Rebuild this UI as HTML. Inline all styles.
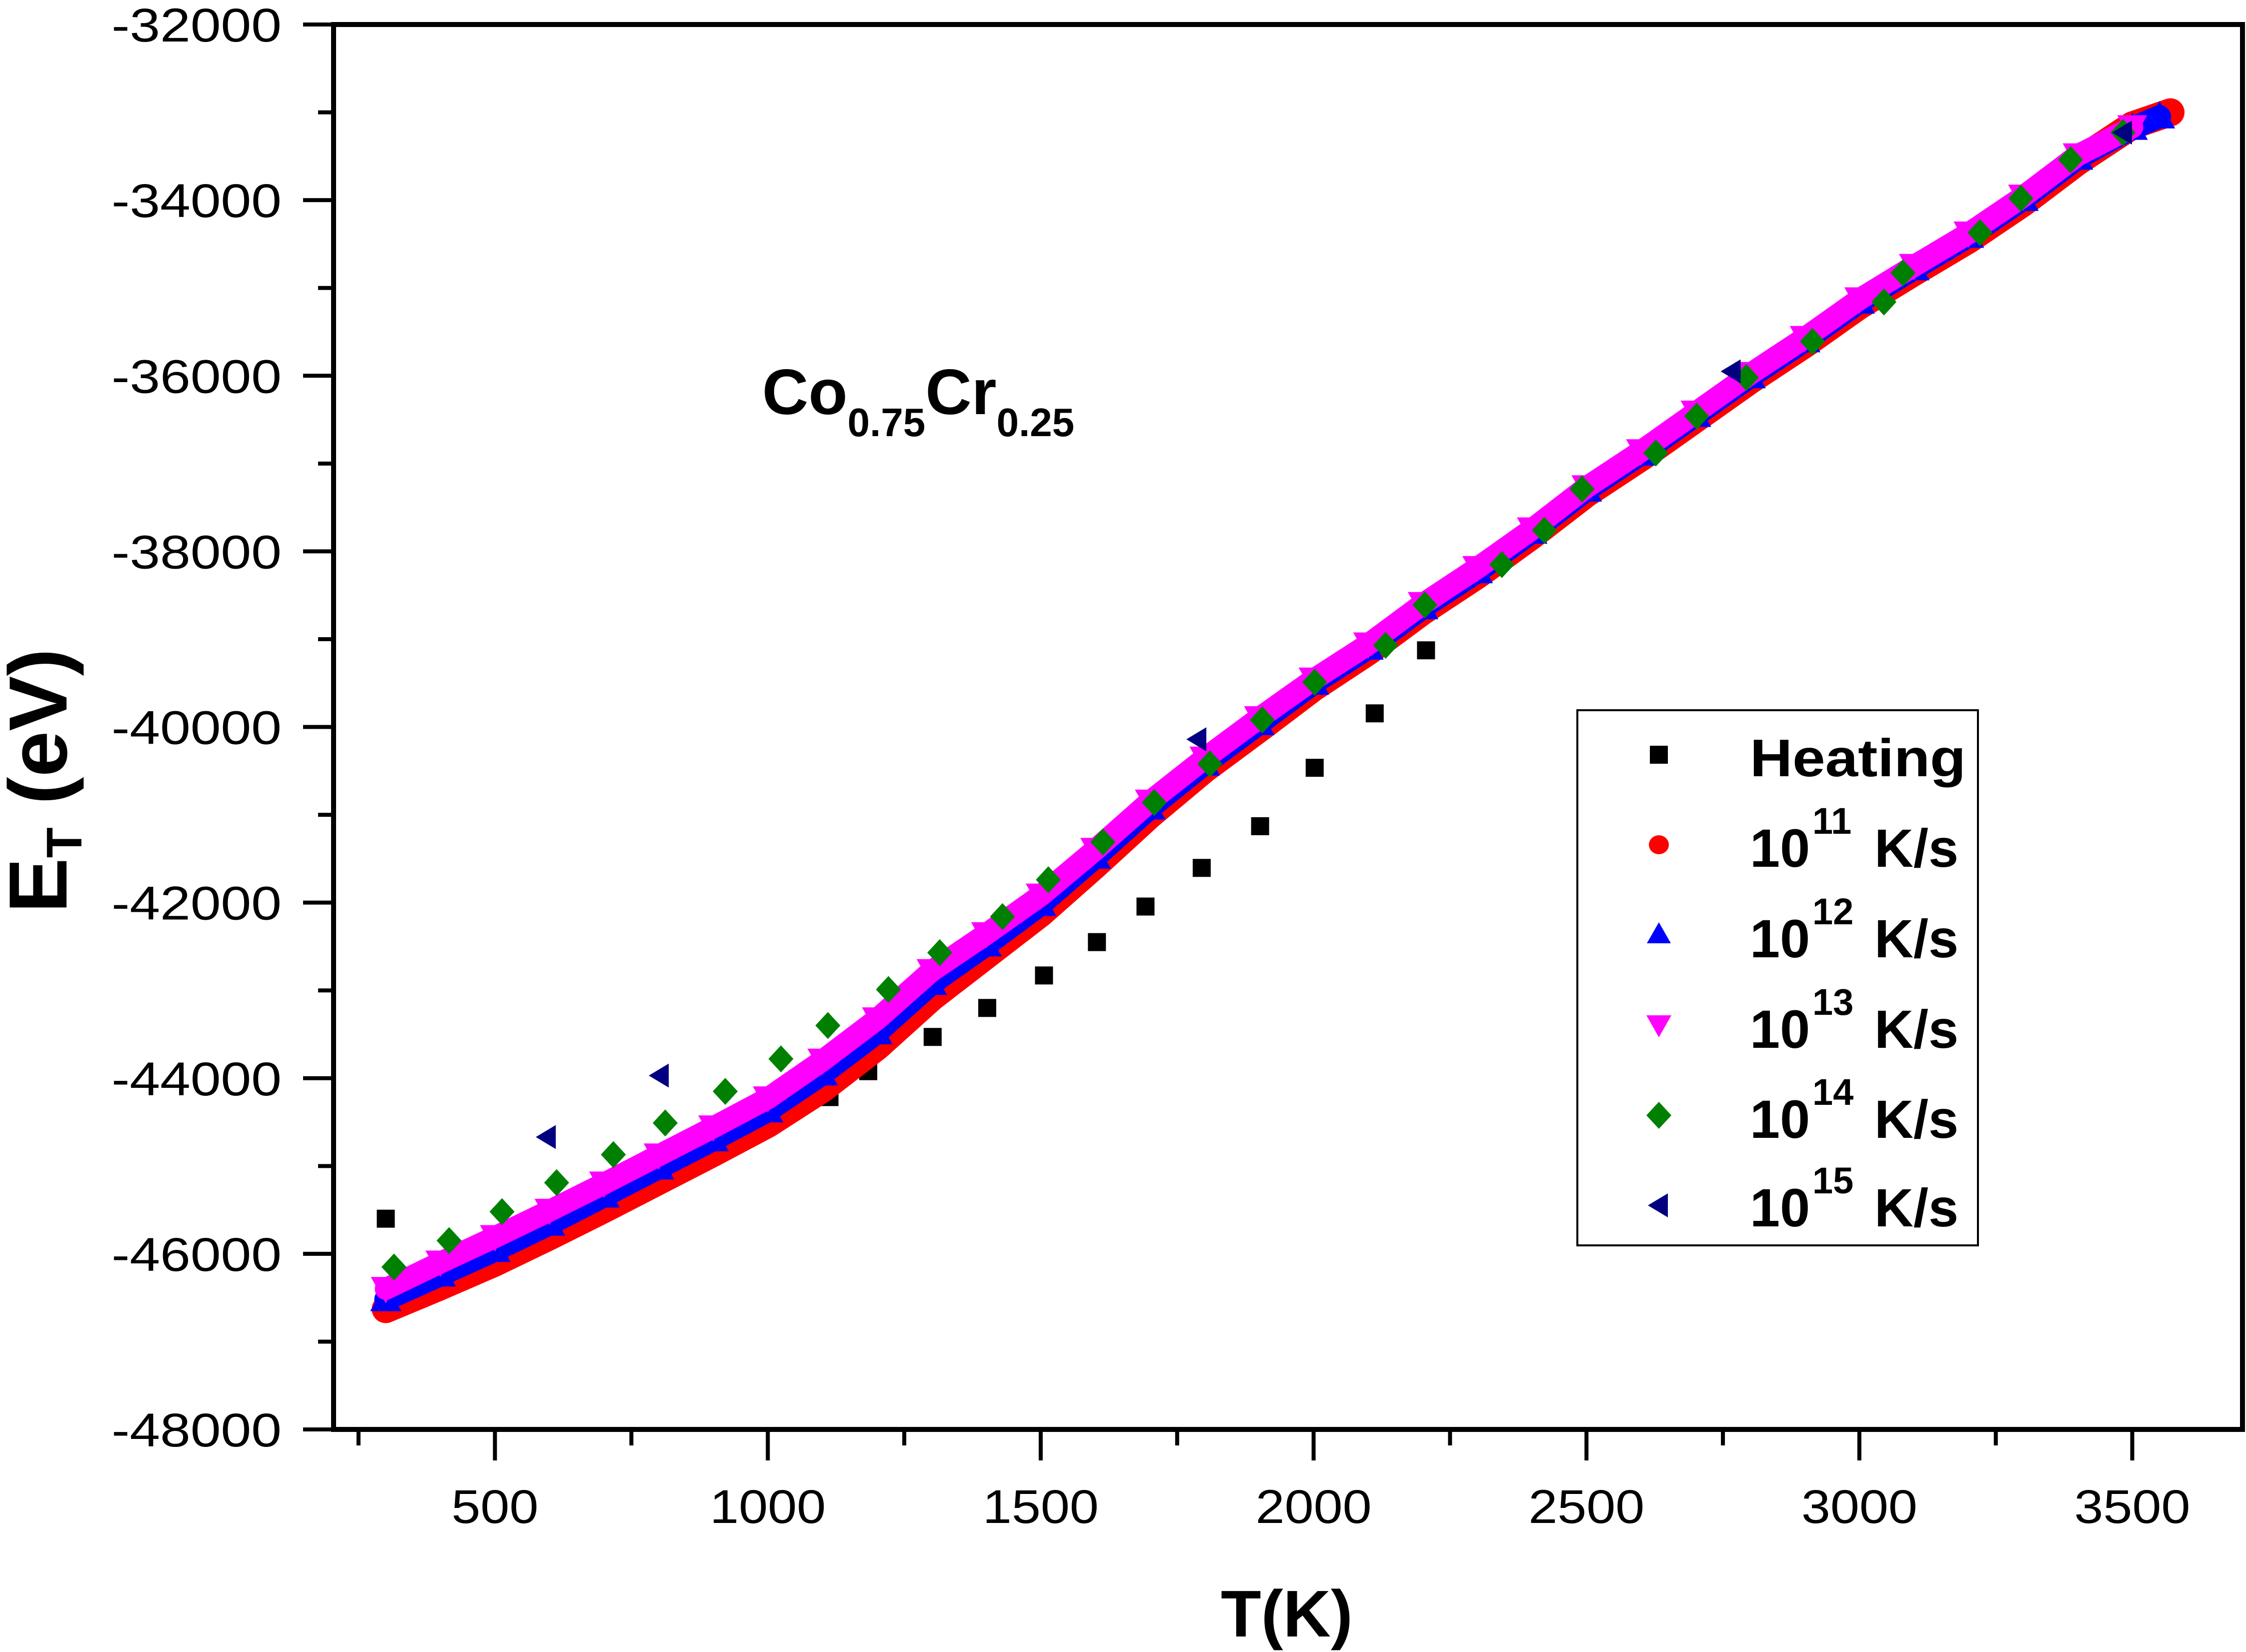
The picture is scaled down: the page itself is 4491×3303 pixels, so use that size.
<!DOCTYPE html>
<html><head><meta charset="utf-8"><style>
html,body{margin:0;padding:0;background:#fff;}
svg{display:block;font-family:"Liberation Sans",Arial,sans-serif;}
</style></head><body>
<svg id="chart" xmlns="http://www.w3.org/2000/svg" width="4491" height="3303" viewBox="0 0 4491 3303">
<rect x="0" y="0" width="4491" height="3303" fill="#fff"/>
<g id="marks"></g>
<g id="axes"></g>
<text x="1524" y="828" font-size="128" font-weight="bold">Co<tspan font-size="80" dy="44">0.75</tspan><tspan dy="-44">Cr</tspan><tspan font-size="80" dy="44">0.25</tspan></text>
<text x="2573" y="3272" font-size="132" font-weight="bold" text-anchor="middle">T(K)</text>
<text transform="translate(133,1561) rotate(-90)" font-size="165" font-weight="bold" text-anchor="middle">E<tspan font-size="100" dy="30">T</tspan><tspan dy="-30"> (eV)</tspan></text>
<g id="legend">
<rect x="3154" y="1420" width="801" height="1070" fill="#fff" stroke="#000" stroke-width="4"/>
</g>
</svg>
<script>
const xTicksMajor = [500,1000,1500,2000,2500,3000,3500];
const yTicksMajor = [-32000,-34000,-36000,-38000,-40000,-42000,-44000,-46000,-48000];
const tGrid = [300,400,500,600,700,800,900,1000,1100,1200,1300,1400,1500,1600,1700,1800,1900,2000,2100,2200,2300,2400,2500,2600,2700,2800,2900,3000,3100,3200,3300,3400,3500];
const redE = [-46630,-46370,-46100,-45800,-45490,-45170,-44850,-44520,-44120,-43640,-43080,-42600,-42120,-41570,-41000,-40480,-40020,-39550,-39140,-38680,-38270,-37820,-37340,-36930,-36490,-36050,-35640,-35200,-34820,-34450,-34030,-33560,-33150];
const blueE = [-46520,-46240,-45960,-45660,-45340,-45020,-44700,-44370,-43950,-43480,-42920,-42480,-42020,-41480,-40920,-40420,-39960,-39500,-39100,-38640,-38230,-37780,-37300,-36890,-36450,-36010,-35600,-35160,-34780,-34410,-33990,-33520,-33180];
const pinkE = [-46400,-46100,-45810,-45510,-45200,-44880,-44560,-44230,-43800,-43330,-42780,-42360,-41920,-41400,-40850,-40360,-39900,-39460,-39060,-38600,-38190,-37750,-37270,-36860,-36420,-35980,-35570,-35130,-34750,-34380,-33960,-33490,-33170];
const redEndT = [3570]; const redEndE = [-33000];
const blueEndT = [3550]; const blueEndE = [-33050];
const heatT = [300,901,1001,1113,1184,1302,1402,1506,1603,1692,1795,1902,2002,2112,2206];
const heatE = [-45600,-44820,-44510,-44215,-43920,-43530,-43200,-42830,-42450,-42045,-41605,-41130,-40465,-39845,-39127];
const diaT = [315,416,513,613,717,812,922,1024,1110,1221,1315,1430,1514,1614,1708,1810,1906,2002,2132,2204,2345,2423,2492,2627,2702,2793,2914,3045,3080,3221,3296,3387,3483];
const diaE = [-46150,-45850,-45520,-45190,-44870,-44510,-44150,-43780,-43400,-42990,-42570,-42160,-41740,-41310,-40860,-40420,-39920,-39490,-39070,-38610,-38150,-37760,-37290,-36880,-36460,-36020,-35610,-35160,-34830,-34370,-33980,-33540,-33230];
const navyT = [595,802,1787,2766,3483];
const navyE = [-44670,-43970,-40140,-35950,-33230];
const legendLabels = ["Heating","10","10","10","10","10"];
const legendExps = ["","11","12","13","14","15"];

const NS="http://www.w3.org/2000/svg";
const L=667,R=4484,TOP=49,B=2858;
function xs(t){return 444+(t-0)*1.0913;}
function ys(e){return TOP+(-32000-e)/16000*(B-TOP);}
function mk(tag,attrs,parent){const el=document.createElementNS(NS,tag);for(const k in attrs)el.setAttribute(k,attrs[k]);parent.appendChild(el);return el;}
const marks=document.getElementById('marks');
const axes=document.getElementById('axes');
const legend=document.getElementById('legend');

function sym(type,cx,cy,parent,s){
  s=s||1;
  let el;
  if(type==='square'){el=mk('rect',{x:cx-18*s,y:cy-18*s,width:36*s,height:36*s,fill:'#000'},parent);}
  else if(type==='circle'){el=mk('ellipse',{cx:cx,cy:cy,rx:20*s,ry:19*s,fill:'#ff0000'},parent);}
  else if(type==='up'){el=mk('polygon',{points:`${cx},${cy-24*s} ${cx+24*s},${cy+18*s} ${cx-24*s},${cy+18*s}`,fill:'#0000ff'},parent);}
  else if(type==='down'){el=mk('polygon',{points:`${cx-25*s},${cy-20*s} ${cx+25*s},${cy-20*s} ${cx},${cy+24*s}`,fill:'#ff00ff'},parent);}
  else if(type==='diamond'){el=mk('polygon',{points:`${cx},${cy-27*s} ${cx+25*s},${cy} ${cx},${cy+27*s} ${cx-25*s},${cy}`,fill:'#008000'},parent);}
  else {el=mk('polygon',{points:`${cx-22*s},${cy} ${cx+18*s},${cy-24*s} ${cx+18*s},${cy+24*s}`,fill:'#000080'},parent);}
  return el;
}

for(let i=0;i<heatT.length;i++){
  const el=sym('square',xs(heatT[i]),ys(heatE[i]),marks);
  
  
}
function band(T,E,extT,extE,color,w,type,name,s){
  const pts=T.map((t,i)=>xs(t)+','+ys(E[i]));
  for(let j=0;j<extT.length;j++)pts.push(xs(extT[j])+','+ys(extE[j]));
  const pl=mk('polyline',{points:pts.join(' '),fill:'none',stroke:color,'stroke-width':w,'stroke-linecap':'round','stroke-linejoin':'round'},marks);
  
  
  for(let i=0;i<T.length;i++){
    const el=sym(type,xs(T[i]),ys(E[i]),marks,s);
    
    
  }
  for(let j=0;j<extT.length;j++){
    const el=sym(type,xs(extT[j]),ys(extE[j]),marks,s);
    
    
  }
}
band(tGrid,redE,redEndT,redEndE,'#ff0000',56,'circle','rate-1e11',1.4);
band(tGrid,blueE,blueEndT,blueEndE,'#0000ff',46,'up','rate-1e12',1.3);
band(tGrid,pinkE,[],[],'#ff00ff',44,'down','rate-1e13',1.2);
for(let i=0;i<diaT.length;i++){
  const el=sym('diamond',xs(diaT[i]),ys(diaE[i]),marks);
  
  
}
for(let i=0;i<navyT.length;i++){
  const el=sym('left',xs(navyT[i]),ys(navyE[i]),marks);
  
  
}

const frame=mk('rect',{x:L,y:TOP,width:R-L,height:B-TOP,fill:'none',stroke:'#000','stroke-width':10},axes);


for(let v=-32000;v>=-48000;v-=1000){
  const y=ys(v);const major=(v%2000===0);
  const tk=mk('line',{x1:major?606:636,x2:L,y1:y,y2:y,stroke:'#000','stroke-width':8},axes);
  
  
}
yTicksMajor.forEach(v=>{
  const t=mk('text',{x:563,y:ys(v)+34,'font-size':95,'text-anchor':'end',textLength:340,lengthAdjust:'spacingAndGlyphs'},axes);
  t.textContent=String(v);
  
  
});
for(let v=250;v<=3500;v+=250){
  const x=xs(v);const major=(v%500===0);
  const tk=mk('line',{x1:x,x2:x,y1:B,y2:major?2920:2890,stroke:'#000','stroke-width':8},axes);
  
  
}
xTicksMajor.forEach(v=>{
  const s=String(v);
  const t=mk('text',{x:xs(v),y:3045,'font-size':95,'text-anchor':'middle',textLength:s.length*58,lengthAdjust:'spacingAndGlyphs'},axes);
  t.textContent=s;
  
  
});

const symTypes=['square','circle','up','down','diamond','left'];
const symY=[1509,1689,1868,2050,2230,2410];
const baseY=[1552,1733,1914,2095,2275,2452];
for(let i=0;i<6;i++){
  const s=sym(symTypes[i],3317,symY[i],legend);
  
  
  if(i===0){
    const t=mk('text',{x:3499,y:baseY[i],'font-size':106,'font-weight':'bold',textLength:432,lengthAdjust:'spacingAndGlyphs'},legend);
    t.textContent=legendLabels[i];
    
    
  } else {
    const t=mk('text',{x:3499,y:baseY[i],'font-size':108,'font-weight':'bold'},legend);
    
    
    const a=mk('tspan',{},t);a.textContent=legendLabels[i];
    const b=mk('tspan',{x:3624,dy:-66,'font-size':74},t);b.textContent=legendExps[i];
    const c=mk('tspan',{x:3748,dy:66},t);c.textContent='K/s';
  }
}
</script>
</body></html>
